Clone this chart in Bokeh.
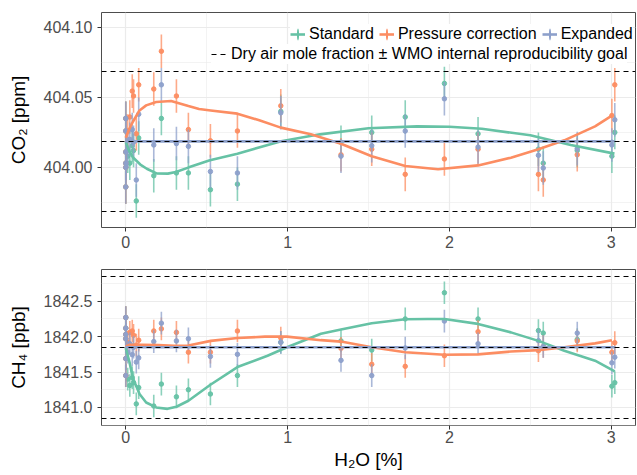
import numpy as np
from bokeh.plotting import figure
from bokeh.layouts import column
from bokeh.models import (Range1d, FixedTicker, NumeralTickFormatter, Legend,
                          LegendItem, ColumnDataSource)
from bokeh.embed import file_html
from bokeh.resources import INLINE

# ---------------- data ----------------
H2O = [0.0, 0.0, 0.0, 0.0, 0.0, 0.0,
       0.012, 0.025, 0.04, 0.048, 0.065, 0.08,
       0.173, 0.22, 0.313, 0.387, 0.523, 0.69, 0.958, 1.33, 1.52, 1.727,
       1.969, 2.177, 2.55, 2.58, 2.79, 3.004, 3.022]

CO2_STANDARD = [404.035, 404.026, 404.011, 404.003, 404.000, 403.986,
                404.008, 404.003, 404.0155, 404.012, 403.976, 404.021,
                403.994, 404.035, 403.996, 403.996, 403.984, 403.988, 404.040, 404.018,
                404.025, 404.036, 404.060, 404.024, 404.013, 404.003, 404.012, 404.008, 404.025]
CO2_PRESSURE = [404.035, 404.026, 404.011, 404.003, 404.000, 403.986,
                404.026, 404.036, 404.0545, 404.051, 404.024, 404.059,
                404.056, 404.083, 404.051, 404.027, 404.019, 404.026, 404.044, 404.009,
                404.013, 403.995, 404.006, 404.013, 403.995, 403.991, 404.009, 404.037, 404.059]
CO2_EXPANDED = [404.035, 404.026, 404.011, 404.003, 404.000, 403.986,
                404.012, 404.020, 404.027, 404.018, 403.991, 404.038,
                404.016, 404.059, 404.017, 404.015, 403.997, 403.996, 404.039, 404.008,
                404.0155, 404.026, 404.049, 404.0145, 404.0086, 403.9995, 404.0134, 404.016, 404.034]

CH4_STANDARD = [1842.27, 1842.12, 1842.03, 1841.97, 1841.69, 1841.45,
                1841.40, 1841.31, 1841.42, 1841.35, 1841.05, 1841.28,
                1841.02, 1841.33, 1841.15, 1841.25, 1841.19, 1841.45, 1841.92, 1841.94,
                1841.81, 1842.25, 1842.62, 1842.25, 1842.085, 1842.05, 1841.96, 1841.30, 1841.35]
CH4_PRESSURE = [1842.27, 1842.12, 1842.03, 1841.97, 1841.69, 1841.45,
                1841.92, 1842.06, 1842.08, 1842.02, 1841.88, 1841.95,
                1842.08, 1842.11, 1842.06, 1841.78, 1841.78, 1842.08, 1841.98, 1841.835,
                1841.61, 1841.58, 1841.73, 1842.07, 1841.80, 1841.86, 1841.94, 1841.78, 1841.915]
CH4_EXPANDED = [1842.27, 1842.12, 1842.03, 1841.97, 1841.69, 1841.45,
                1841.78, 1841.90, 1841.745, 1841.85, 1841.64, 1841.70,
                1841.93, 1842.19, 1841.94, 1841.97, 1841.72, 1841.75, 1841.92, 1841.665,
                1841.45, 1841.84, 1842.22, 1841.90, 1841.943, 1841.86, 1842.05, 1841.63, 1841.71]

CO2_ERR = 0.012
CH4_ERR = 0.16

# fitted curves
CO2_FIT_STD_X = [0.0, 0.02, 0.045, 0.09, 0.13, 0.19, 0.26, 0.31, 0.39, 0.52, 0.69, 0.96,
                 1.2, 1.5, 1.8, 2.0, 2.2, 2.5, 2.75, 3.02]
CO2_FIT_STD_Y = [404.018, 404.012, 404.007, 404.002, 403.999, 403.9957, 403.9955, 403.9967,
                 404.000, 404.005, 404.0098, 404.0186, 404.0236, 404.028, 404.0293, 404.029,
                 404.0276, 404.0229, 404.016, 404.0098]
CO2_FIT_PRS_X = [0.0, 0.02, 0.043, 0.085, 0.126, 0.188, 0.28, 0.387, 0.453, 0.525, 0.69, 0.825,
                 0.958, 1.144, 1.33, 1.52, 1.727, 1.93, 2.177, 2.38, 2.55, 2.71, 2.9, 3.004]
CO2_FIT_PRS_Y = [404.0212, 404.027, 404.0324, 404.0407, 404.0443, 404.0467, 404.0474, 404.0438,
                 404.0417, 404.0407, 404.0384, 404.0336, 404.0284, 404.0236, 404.0169, 404.0079,
                 404.001, 403.9986, 404.0014, 404.0069, 404.0129, 404.0193, 404.0293, 404.037]
CO2_FIT_EXP_X = [0.0, 3.022]
CO2_FIT_EXP_Y = [404.0186, 404.0186]

CH4_FIT_STD_X = [0.0, 0.023, 0.043, 0.085, 0.126, 0.188, 0.258, 0.313, 0.387, 0.523, 0.69, 0.876,
                 0.996, 1.206, 1.33, 1.52, 1.727, 1.865, 1.969, 2.177, 2.38, 2.55, 2.71, 2.9, 3.022]
CH4_FIT_STD_Y = [1841.84, 1841.64, 1841.42, 1841.19, 1841.07, 1841.0, 1840.98, 1841.01, 1841.095,
                 1841.32, 1841.57, 1841.73, 1841.85, 1842.04, 1842.1, 1842.19, 1842.245, 1842.25,
                 1842.25, 1842.18, 1842.06, 1841.94, 1841.80, 1841.66, 1841.51]
CH4_FIT_PRS_X = [0.0, 0.02, 0.1, 0.2, 0.3, 0.387, 0.525, 0.69, 0.86, 0.996, 1.206, 1.33, 1.52,
                 1.727, 1.969, 2.177, 2.38, 2.55, 2.71, 2.9, 3.004]
CH4_FIT_PRS_Y = [1841.86, 1841.885, 1841.885, 1841.88, 1841.87, 1841.875, 1841.94, 1841.98, 1842.0,
                 1842.0, 1841.95, 1841.93, 1841.85, 1841.78, 1841.745, 1841.75, 1841.79, 1841.81,
                 1841.85, 1841.905, 1841.95]
CH4_FIT_EXP_X = [0.0, 3.022]
CH4_FIT_EXP_Y = [1841.85, 1841.85]

CO2_REF, CO2_GOAL = 404.0186, 0.05
CH4_REF, CH4_GOAL = 1841.85, 1.0

SERIES = ["Standard", "Pressure correction", "Expanded"]
COLORS = ["#66c2a5", "#fc8d62", "#8da0cb"]
REF_LABEL = "Dry air mole fraction \u00b1 WMO internal reproducibility goal"

X_TICKS = [0, 1, 2, 3]
X_MINOR = [0.5, 1.5, 2.5]
CO2_TICKS = [404.00, 404.05, 404.10]
CO2_MINOR = [403.975, 404.025, 404.075]
CH4_TICKS = [1841.0, 1841.5, 1842.0, 1842.5]
CH4_MINOR = [1840.75, 1841.25, 1841.75, 1842.25, 1842.75]

FONT = "Liberation Sans"


def style(p, yticks, yminor, yfmt, ylabel, xlabel, xstandoff):
    p.background_fill_color = "white"
    p.border_fill_color = "white"
    p.outline_line_color = "#4d4d4d"
    p.outline_line_width = 1
    p.xaxis.ticker = FixedTicker(ticks=X_TICKS, minor_ticks=X_MINOR)
    p.yaxis.ticker = FixedTicker(ticks=yticks, minor_ticks=yminor)
    p.xaxis.formatter = NumeralTickFormatter(format="0")
    p.yaxis.formatter = NumeralTickFormatter(format=yfmt)
    for ax in (p.xaxis, p.yaxis):
        ax.axis_line_color = None
        ax.major_tick_out = 4
        ax.major_tick_in = 0
        ax.minor_tick_out = 0
        ax.minor_tick_in = 0
        ax.major_tick_line_color = "#333333"
        ax.major_label_text_font = FONT
        ax.major_label_text_font_size = "16px"
        ax.major_label_text_color = "#4d4d4d"
        ax.axis_label_text_font = FONT
        ax.axis_label_text_font_size = "19px"
        ax.axis_label_text_font_style = "normal"
        ax.axis_label_text_color = "black"
    p.xaxis.major_label_standoff = xstandoff
    p.yaxis.major_label_standoff = 5
    p.yaxis.axis_label = ylabel
    p.yaxis.axis_label_standoff = 12
    p.xaxis.axis_label = xlabel
    p.xaxis.axis_label_standoff = 3
    for g in (p.xgrid, p.ygrid):
        g.grid_line_color = "#ebebeb"
        g.grid_line_width = 1.2
        g.minor_grid_line_color = "#ebebeb"
        g.minor_grid_line_width = 0.6


def draw(p, vals, err, fits, ref, goal):
    keys = []
    srcs = []
    for v, c in zip(vals, COLORS):
        y = np.array(v)
        src = ColumnDataSource(dict(x=H2O, y=y, lo=y - err, hi=y + err))
        srcs.append(src)
        p.segment(x0="x", y0="lo", x1="x", y1="hi", source=src, line_color=c,
                  line_width=1.6, line_alpha=0.75)
        p.scatter(x="x", y="y", source=src, size=4.5, fill_color=c, line_color=c,
                  alpha=0.95)
    fit_renderers = []
    for (fx, fy), c in zip(fits, COLORS):
        fit_renderers.append(p.line(fx, fy, line_color=c, line_width=2.6))
    for c, fr, src in zip(COLORS, fit_renderers, srcs):
        # key-only renderer: sub-pixel ellipses (invisible in the plot); in the legend
        # it is drawn as a thin vertical stroke that makes the "+" key with the line
        vk = p.ellipse(x="x", y="y", source=src, width=0.00018, height=0.001,
                       width_units="screen", height_units="screen",
                       fill_color=c, line_color=None)
        keys.append([fr, vk])
    refs = p.hspan(y=[ref - goal, ref, ref + goal], line_color="black",
                   line_dash="5 4", line_width=1)
    return keys, refs


p1 = figure(width=637, height=255, x_range=Range1d(-0.15, 3.15),
            y_range=Range1d(403.957, 404.1107), output_backend="svg",
            toolbar_location=None, min_border_left=101, min_border_right=2,
            min_border_top=12, min_border_bottom=28)
style(p1, CO2_TICKS, CO2_MINOR, "0.00", "CO\u2082 [ppm]", None, 4)
keys, refs = draw(p1, [CO2_STANDARD, CO2_PRESSURE, CO2_EXPANDED], CO2_ERR,
                  [(CO2_FIT_STD_X, CO2_FIT_STD_Y), (CO2_FIT_PRS_X, CO2_FIT_PRS_Y),
                   (CO2_FIT_EXP_X, CO2_FIT_EXP_Y)], CO2_REF, CO2_GOAL)

leg1 = Legend(items=[LegendItem(label=s, renderers=k) for s, k in zip(SERIES, keys)],
              orientation="horizontal", location=(189, 183), glyph_width=15, glyph_height=20,
              label_standoff=4, spacing=5, padding=6, margin=0,
              label_text_font=FONT, label_text_font_size="16px", label_text_color="black",
              background_fill_color="white", background_fill_alpha=1,
              border_line_color=None)
leg2 = Legend(items=[LegendItem(label=REF_LABEL, renderers=[refs])],
              location=(110, 163), glyph_width=15, glyph_height=20, label_standoff=5,
              padding=2, margin=0,
              label_text_font=FONT, label_text_font_size="16px", label_text_color="black",
              background_fill_color="white", background_fill_alpha=1,
              border_line_color=None)
p1.add_layout(leg1)
p1.add_layout(leg2)

p2 = figure(width=637, height=218, x_range=Range1d(-0.15, 3.15),
            y_range=Range1d(1840.745, 1842.948), output_backend="svg",
            toolbar_location=None, min_border_left=101, min_border_right=2,
            min_border_top=14, min_border_bottom=48)
style(p2, CH4_TICKS, CH4_MINOR, "0.0", "CH\u2084 [ppb]", "H\u2082O [%]", 1)
draw(p2, [CH4_STANDARD, CH4_PRESSURE, CH4_EXPANDED], CH4_ERR,
     [(CH4_FIT_STD_X, CH4_FIT_STD_Y), (CH4_FIT_PRS_X, CH4_FIT_PRS_Y),
      (CH4_FIT_EXP_X, CH4_FIT_EXP_Y)], CH4_REF, CH4_GOAL)

layout = column(p1, p2)
open("out.html", "w").write(file_html(layout, INLINE))
